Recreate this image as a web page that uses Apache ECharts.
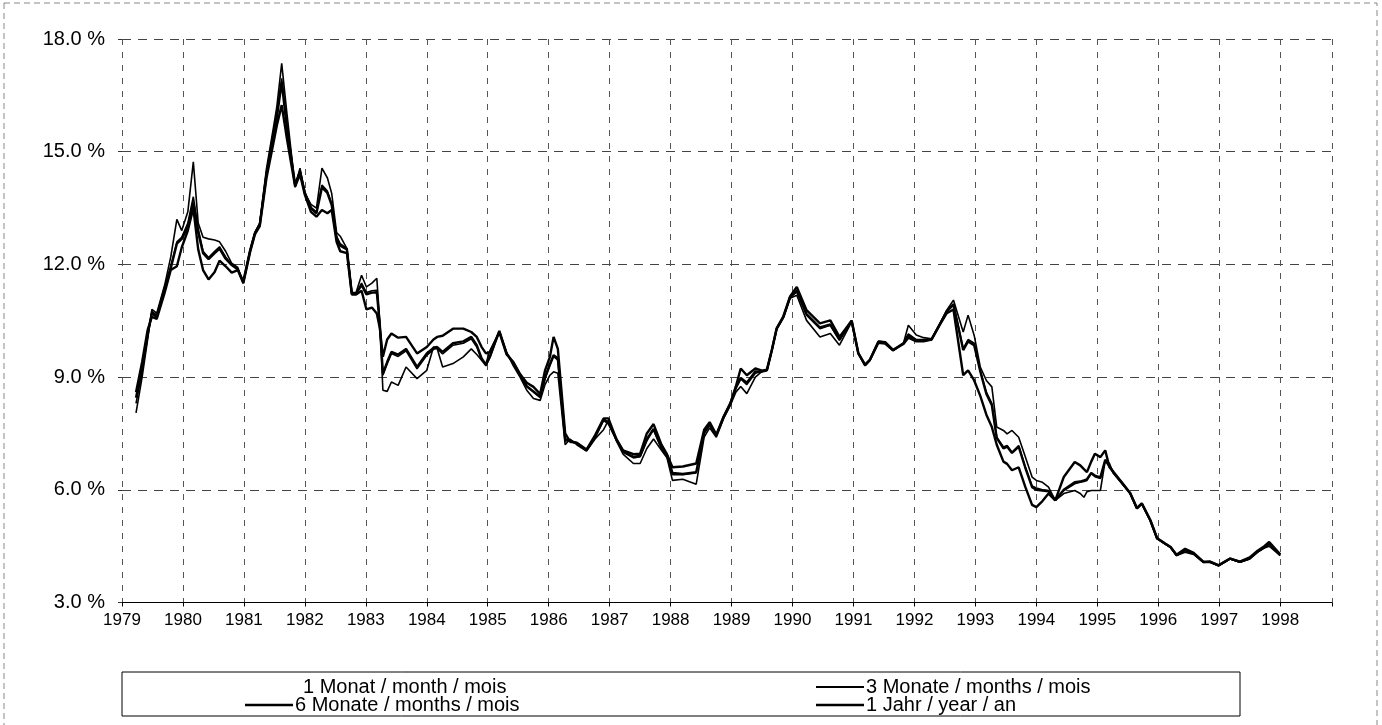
<!DOCTYPE html>
<html><head><meta charset="utf-8">
<script src="https://cdn.jsdelivr.net/npm/echarts/dist/echarts.min.js"></script>
<style>html,body{margin:0;padding:0;background:#fff}#c{width:1382px;height:725px}</style>
</head><body><div id="c"></div>
<script>
const dates = [
1979.23,1979.33,1979.42,1979.49,1979.57,1979.70,1979.80,1979.90,1979.98,1980.08,
1980.17,1980.25,1980.33,1980.42,1980.52,1980.60,1980.70,1980.80,1980.90,1980.99,
1981.10,1981.18,1981.26,1981.37,1981.48,1981.54,1981.62,1981.70,1981.84,1981.92,
1982.00,1982.10,1982.19,1982.28,1982.37,1982.44,1982.52,1982.58,1982.69,1982.77,
1982.84,1982.93,1983.01,1983.10,1983.18,1983.23,1983.28,1983.35,1983.42,1983.53,
1983.66,1983.84,1984.00,1984.11,1984.17,1984.26,1984.43,1984.60,1984.73,1984.82,
1984.90,1984.97,1985.04,1985.19,1985.31,1985.42,1985.53,1985.64,1985.75,1985.86,
1985.94,1986.02,1986.08,1986.15,1986.27,1986.35,1986.46,1986.62,1986.76,1986.90,
1986.98,1987.11,1987.22,1987.39,1987.50,1987.61,1987.72,1987.85,1987.94,1988.03,
1988.20,1988.42,1988.55,1988.64,1988.75,1988.87,1988.98,1989.07,1989.15,1989.25,
1989.39,1989.50,1989.58,1989.66,1989.74,1989.85,1989.96,1990.07,1990.23,1990.45,
1990.62,1990.77,1990.97,1991.08,1991.19,1991.27,1991.41,1991.52,1991.65,1991.82,
1991.90,1992.03,1992.15,1992.28,1992.42,1992.53,1992.64,1992.80,1992.88,1992.98,
1993.08,1993.18,1993.27,1993.35,1993.46,1993.52,1993.60,1993.71,1993.82,1993.93,
1994.00,1994.10,1994.20,1994.31,1994.45,1994.63,1994.72,1994.78,1994.83,1994.90,
1994.96,1995.05,1995.13,1995.20,1995.26,1995.43,1995.54,1995.65,1995.73,1995.87,
1995.98,1996.11,1996.20,1996.30,1996.44,1996.58,1996.74,1996.85,1996.99,1997.18,
1997.34,1997.50,1997.63,1997.74,1997.82,1998.00];

const month1 = [
8.05,9.00,10.00,10.80,10.70,11.45,12.20,13.20,12.90,13.40,
14.73,13.10,12.72,12.68,12.65,12.60,12.35,12.03,11.92,11.50,
12.35,12.83,13.10,14.55,15.60,16.20,17.35,16.10,14.05,14.56,
13.89,13.60,13.50,14.56,14.30,13.89,12.85,12.75,12.42,11.25,
11.25,11.71,11.40,11.50,11.63,10.45,8.65,8.62,8.87,8.78,
9.27,8.96,9.18,9.80,9.76,9.27,9.36,9.54,9.75,9.60,
9.45,9.36,9.72,10.20,9.65,9.30,9.00,8.65,8.43,8.38,
8.80,9.05,9.14,9.10,7.20,7.35,7.20,7.03,7.35,7.60,
7.85,7.30,6.95,6.70,6.70,7.10,7.35,7.05,6.85,6.25,
6.28,6.15,7.40,7.65,7.40,7.90,8.25,8.60,8.75,8.56,
9.00,9.15,9.18,9.70,10.27,10.58,11.10,11.18,10.51,10.07,
10.16,9.85,10.47,9.63,9.30,9.45,9.90,9.88,9.70,9.90,
10.38,10.12,10.05,10.02,10.43,10.78,11.05,10.20,10.65,10.11,
9.27,8.91,8.74,7.67,7.58,7.49,7.58,7.40,6.87,6.34,
6.25,6.20,6.07,5.72,5.90,5.98,5.90,5.80,5.95,5.98,
5.98,5.98,6.78,6.70,6.45,6.12,5.90,5.50,5.63,5.18,
4.70,4.56,4.47,4.25,4.34,4.28,4.07,4.07,3.98,4.16,
4.07,4.16,4.34,4.45,4.50,4.25];

const months3 = [
8.30,9.15,10.05,10.75,10.65,11.40,11.95,12.60,12.72,13.10,
13.80,12.95,12.35,12.18,12.35,12.47,12.20,12.00,11.88,11.52,
12.38,12.86,13.09,14.45,15.50,16.00,16.95,15.80,14.10,14.50,
13.92,13.52,13.40,14.11,13.95,13.62,12.75,12.55,12.42,11.23,
11.22,11.50,11.25,11.30,11.31,10.42,9.05,9.35,9.63,9.55,
9.70,9.22,9.58,9.74,9.76,9.62,9.85,9.90,10.02,9.80,
9.45,9.30,9.54,10.22,9.63,9.36,9.05,8.74,8.60,8.45,
8.95,9.30,9.55,9.45,7.30,7.30,7.23,7.05,7.40,7.85,
7.75,7.32,7.00,6.85,6.88,7.30,7.60,7.10,6.90,6.40,
6.40,6.45,7.50,7.72,7.45,7.93,8.28,8.70,8.95,8.80,
9.10,9.15,9.18,9.71,10.29,10.60,11.12,11.27,10.65,10.29,
10.38,9.98,10.50,9.63,9.31,9.45,9.93,9.90,9.71,9.90,
10.15,10.00,10.00,10.00,10.43,10.76,10.95,9.76,10.00,9.90,
9.18,8.60,8.30,7.40,7.14,7.18,7.00,7.18,6.60,6.10,
6.05,6.00,5.98,5.72,5.98,6.16,6.20,6.22,6.25,6.43,
6.35,6.30,6.78,6.65,6.47,6.12,5.90,5.50,5.63,5.18,
4.70,4.56,4.47,4.25,4.38,4.30,4.07,4.07,3.98,4.16,
4.07,4.16,4.34,4.46,4.55,4.25];

const months6 = [
8.45,9.25,10.15,10.70,10.60,11.35,11.90,12.55,12.68,13.00,
13.65,12.85,12.30,12.14,12.30,12.42,12.15,11.98,11.86,11.55,
12.36,12.83,13.06,14.40,15.40,15.90,16.85,15.70,14.12,14.48,
13.90,13.50,13.36,14.05,13.90,13.58,12.70,12.50,12.40,11.22,
11.22,11.45,11.20,11.25,11.26,10.38,9.10,9.40,9.67,9.60,
9.75,9.27,9.63,9.78,9.80,9.67,9.90,9.95,10.07,9.85,
9.50,9.33,9.56,10.23,9.63,9.38,9.06,8.76,8.62,8.48,
9.00,9.35,9.58,9.50,7.35,7.30,7.25,7.05,7.40,7.87,
7.80,7.35,7.02,6.88,6.90,7.35,7.62,7.12,6.92,6.45,
6.42,6.47,7.52,7.75,7.45,7.94,8.30,8.72,8.98,8.85,
9.15,9.15,9.18,9.71,10.29,10.60,11.13,11.30,10.68,10.32,
10.40,10.00,10.50,9.63,9.32,9.46,9.94,9.92,9.72,9.90,
10.12,9.98,9.98,10.00,10.42,10.75,10.93,9.72,9.95,9.85,
9.15,8.55,8.25,7.38,7.10,7.15,6.98,7.15,6.58,6.07,
6.00,5.98,5.96,5.72,6.00,6.20,6.22,6.25,6.28,6.45,
6.38,6.33,6.80,6.62,6.47,6.13,5.91,5.51,5.63,5.19,
4.71,4.57,4.48,4.26,4.40,4.31,4.08,4.08,3.99,4.17,
4.08,4.18,4.36,4.48,4.57,4.27];

const year1 = [
8.60,9.40,10.25,10.60,10.55,11.25,11.85,11.95,12.45,12.90,
13.50,12.40,11.85,11.60,11.80,12.10,11.95,11.78,11.85,11.50,
12.32,12.80,13.02,14.30,15.20,15.70,16.24,15.40,14.07,14.40,
13.85,13.40,13.27,13.45,13.36,13.45,12.60,12.35,12.30,11.20,
11.20,11.30,10.80,10.85,10.69,10.30,9.54,10.00,10.16,10.05,
10.07,9.63,9.80,10.00,10.07,10.10,10.29,10.29,10.20,10.07,
9.80,9.63,9.67,10.20,9.60,9.40,9.08,8.85,8.74,8.55,
9.18,9.54,10.07,9.75,7.50,7.28,7.25,7.07,7.45,7.90,
7.90,7.35,7.05,6.95,6.96,7.50,7.75,7.20,6.95,6.60,
6.62,6.70,7.60,7.80,7.47,7.95,8.30,8.75,9.23,9.05,
9.23,9.17,9.20,9.72,10.30,10.62,11.15,11.40,10.78,10.43,
10.51,10.07,10.50,9.63,9.33,9.46,9.95,9.93,9.72,9.88,
10.05,9.95,9.95,10.00,10.40,10.70,10.80,9.05,9.18,8.91,
8.50,8.00,7.67,7.20,6.75,6.69,6.52,6.60,6.07,5.60,
5.54,5.70,5.90,5.72,6.34,6.74,6.65,6.55,6.47,6.75,
6.96,6.87,7.05,6.60,6.49,6.14,5.91,5.51,5.64,5.19,
4.71,4.57,4.48,4.27,4.43,4.32,4.08,4.09,3.99,4.17,
4.09,4.20,4.38,4.50,4.61,4.28];

const seriesNames = ['1 Monat / month / mois','3 Monate / months / mois','6 Monate / months / mois','1 Jahr / year / an'];
const seriesValues = [month1, months3, months6, year1];
const lineWidths = [1.6, 1.6, 2.4, 2.4];
const font = "'Liberation Sans', Arial, sans-serif";

const chart = echarts.init(document.getElementById('c'), null, {renderer: 'canvas'});

function legendItem(name, left, top, iconH, hideIcon) {
  return {
    data: [{name: name, icon: 'rect'}], left: left, top: top, orient: 'horizontal',
    itemWidth: 48, itemHeight: iconH, itemGap: 5, padding: 0,
    selectedMode: false,
    itemStyle: {color: '#000', opacity: hideIcon ? 0 : 1, borderWidth: 0},
    lineStyle: {opacity: 0},
    textStyle: {fontSize: 20, color: '#000', fontFamily: font, padding: [0,0,0,-3]}
  };
}

const option = {
  animation: false,
  backgroundColor: '#fff',
  grid: {left: 122, right: 50, top: 39, bottom: 122.5, containLabel: false},
  xAxis: {
    type: 'value', min: 1979, max: 1998.85, interval: 1,
    axisLine: {show: true, lineStyle: {color: '#000', width: 1}},
    axisTick: {show: true, length: 4, lineStyle: {color: '#000'}},
    axisLabel: {fontSize: 17, color: '#000', margin: 9, fontFamily: font,
      formatter: v => (Math.abs(v - Math.round(v)) < 1e-6 ? String(Math.round(v)) : '')},
    splitLine: {show: true, lineStyle: {type: [6, 7], color: '#555', width: 1}}
  },
  yAxis: {
    type: 'value', min: 3, max: 18, interval: 3,
    axisLine: {show: false},
    axisTick: {show: true, length: 4, lineStyle: {color: '#333'}},
    axisLabel: {fontSize: 20, color: '#000', margin: 17, fontFamily: font,
      formatter: v => v.toFixed(1) + ' %'},
    splitLine: {show: true, lineStyle: {type: [9, 7], color: '#444', width: 1}}
  },
  legend: [
    legendItem(seriesNames[0], 253, 677, 2, true),
    legendItem(seriesNames[1], 816, 677, 2, false),
    legendItem(seriesNames[2], 245, 695, 2.5, false),
    legendItem(seriesNames[3], 816, 695, 2.5, false)
  ],
  graphic: [
    {type: 'rect', z: -1, shape: {x: 4, y: 3, width: 1373, height: 740},
      style: {fill: 'none', stroke: '#888', lineWidth: 1, lineDash: [6, 4]}},
    {type: 'rect', shape: {x: 122, y: 672, width: 1118, height: 44},
      style: {fill: 'none', stroke: '#000', lineWidth: 1}}
  ],
  series: seriesNames.map((name, k) => ({
    name: name, type: 'line', showSymbol: false, symbol: 'none',
    data: dates.map((t, i) => [t, seriesValues[k][i]]),
    lineStyle: {color: '#000', width: lineWidths[k]},
    itemStyle: {color: '#000'},
    z: 3 + k
  }))
};
chart.setOption(option);
</script>
</body></html>
